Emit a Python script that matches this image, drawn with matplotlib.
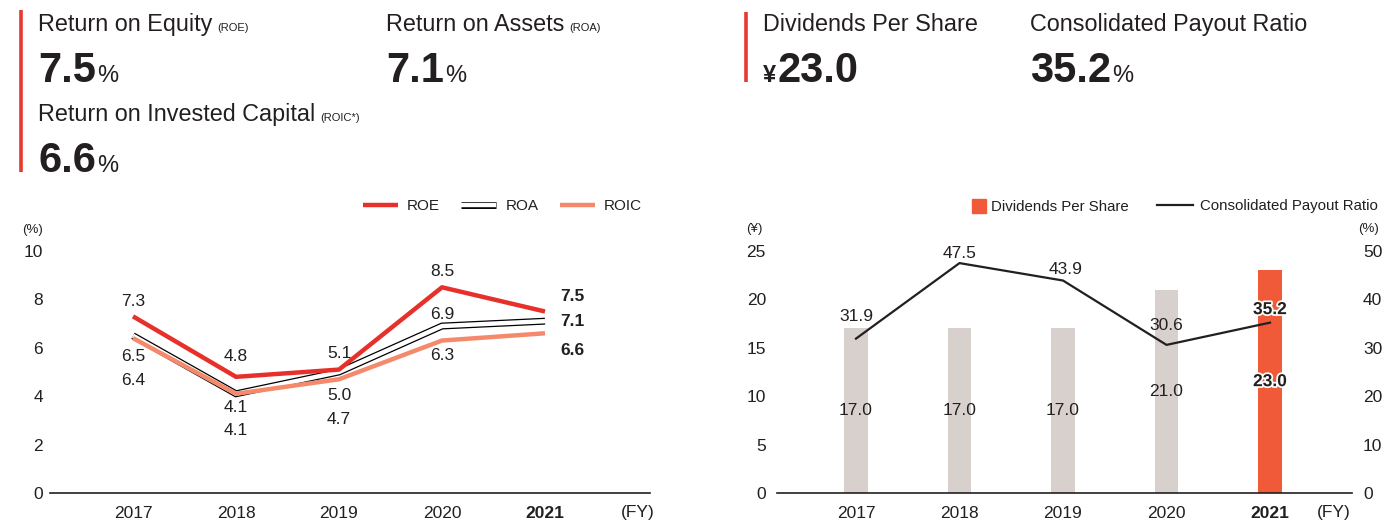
import matplotlib
matplotlib.use('Agg')
import matplotlib.pyplot as plt
import matplotlib.patheffects as pe
from matplotlib.lines import Line2D

# ---------------- data ----------------
years = ['2017', '2018', '2019', '2020', '2021']
roe = [7.3, 4.8, 5.1, 8.5, 7.5]
roa = [6.5, 4.1, 5.0, 6.9, 7.1]
roic = [6.4, 4.1, 4.7, 6.3, 6.6]
dps = [17.0, 17.0, 17.0, 21.0, 23.0]
payout = [31.9, 47.5, 43.9, 30.6, 35.2]
pct_ticks = [0, 2, 4, 6, 8, 10]
yen_ticks = [0, 5, 10, 15, 20, 25]
pay_ticks = [0, 10, 20, 30, 40, 50]

plt.rcParams['font.family'] = ['Liberation Sans', 'DejaVu Sans']

W, H = 1383, 525
fig = plt.figure(figsize=(W / 100, H / 100), dpi=100)
fig.patch.set_facecolor('white')
renderer = fig.canvas.get_renderer()

RED = '#e8302a'
SALMON = '#f4896c'
GRAY = '#d8d0cc'
ORANGE = '#f05a38'
TXT = '#231f20'


def fx(px):
    return px / W


def fy(py):
    return 1 - py / H


# ---------------- headers ----------------
def seq(x, y, parts, gap=3):
    """place text parts one after another on a shared baseline (pixel coords)"""
    cx = x
    for s, kw in parts:
        t = fig.text(fx(cx), fy(y), s, va='baseline', ha='left', color=TXT, **kw)
        bb = t.get_window_extent(renderer)
        cx = bb.x1 + gap


def bar_line(x, y0, y1):
    fig.add_artist(Line2D([fx(x), fx(x)], [fy(y0), fy(y1)], transform=fig.transFigure,
                          color='#e8392f', lw=2.6, solid_capstyle='butt'))


bar_line(21, 10, 172)
bar_line(746, 12, 82)

big = dict(fontsize=30, fontweight='bold')
pc = dict(fontsize=17)
lab = dict(fontsize=16.8)
sm = dict(fontsize=8)

seq(38, 31, [('Return on Equity', lab), ('(ROE)', sm)], gap=5)
seq(38, 82, [('7.5', big), ('%', pc)], gap=1)
seq(386, 31, [('Return on Assets', lab), ('(ROA)', sm)], gap=5)
seq(386, 82, [('7.1', big), ('%', pc)], gap=1)
seq(38, 121, [('Return on Invested Capital', lab), ('(ROIC*)', sm)], gap=5)
seq(38, 172, [('6.6', big), ('%', pc)], gap=1)

seq(763, 31, [('Dividends Per Share', lab)])
seq(763, 82, [('¥', dict(fontsize=17, fontweight='bold')), ('23.0', big)], gap=1)
seq(1030, 31, [('Consolidated Payout Ratio', lab)])
seq(1030, 82, [('35.2', big), ('%', pc)], gap=1)

# ---------------- left chart ----------------
xs = list(range(len(years)))
sp = 103.0
axL = fig.add_axes([fx(50), fy(493), fx(600), 242 / H])
axL.set_xlim(-(133 - 50) / sp, (650 - 133) / sp)
axL.set_ylim(0, 10)

cap = dict(solid_capstyle='butt', solid_joinstyle='miter')
axL.plot(xs, roa, color='black', lw=5.0, zorder=3, **cap)
axL.plot(xs, roa, color='white', lw=3.2, zorder=3.1, **cap)
axL.plot(xs, roic, color=SALMON, lw=3.2, zorder=3.5, solid_capstyle='butt')
axL.plot(xs, roe, color=RED, lw=3.2, zorder=4, solid_capstyle='butt')

for sp_ in ['top', 'right', 'left']:
    axL.spines[sp_].set_visible(False)
axL.spines['bottom'].set_linewidth(1.2)
axL.spines['bottom'].set_color(TXT)
axL.set_yticks(pct_ticks)
axL.set_xticks(xs)
axL.set_xticklabels(years)
axL.tick_params(axis='y', length=0, pad=5, labelsize=12.5, labelcolor=TXT)
axL.tick_params(axis='x', length=0, pad=9, labelsize=12.5, labelcolor=TXT)
axL.get_xticklabels()[-1].set_fontweight('bold')

lbl = dict(fontsize=12.5, color=TXT, ha='center', va='center', textcoords='offset pixels',
           annotation_clip=False)
roe_off = [(0, 15), (0, 20), (0, 16), (0, 16), (17, 15)]
roa_off = [(0, -21), (0, -14), (0, -24), (0, 12), (17, 0)]
roic_off = [(0, -42), (0, -37), (0, -40), (0, -15), (17, -17)]
for vals, offs in [(roe, roe_off), (roa, roa_off), (roic, roic_off)]:
    for i, (v, o) in enumerate(zip(vals, offs)):
        kw = dict(lbl)
        if i == len(vals) - 1:
            kw['fontweight'] = 'bold'
            kw['ha'] = 'left'
            o = (o[0] - 2, o[1])
        axL.annotate(f'{v:.1f}', (i, v), xytext=o, **kw)

axL.text((22 - 50) / 600, (493 - 230) / 242, '(%)', transform=axL.transAxes, fontsize=9.5,
         color=TXT, ha='left', va='center')
axL.annotate('(FY)', (1.0, 0), xycoords='axes fraction', xytext=(-12, -20),
             textcoords='offset pixels', ha='center', va='center', fontsize=12.5, color=TXT)

h_roe = Line2D([], [], color=RED, lw=3.2, solid_capstyle='butt')
h_roa = (Line2D([], [], color='black', lw=5.0, solid_capstyle='butt'),
         Line2D([], [], color='white', lw=3.2, solid_capstyle='butt'))
h_roic = Line2D([], [], color=SALMON, lw=3.2, solid_capstyle='butt')
axL.legend([h_roe, h_roa, h_roic], ['ROE', 'ROA', 'ROIC'], loc='center right',
           bbox_to_anchor=(fx(650), fy(206)), bbox_transform=fig.transFigure,
           ncol=3, frameon=False, fontsize=11, handlelength=2.3, handletextpad=0.6,
           columnspacing=1.4, borderpad=0, labelcolor=TXT)

# ---------------- right chart ----------------
sp2 = 103.5
axR = fig.add_axes([fx(777), fy(493), fx(1352 - 777), 242 / H])
axR.set_xlim(-(856 - 777) / sp2, (1352 - 856) / sp2)
axR.set_ylim(0, 25)
colors = [GRAY] * (len(years) - 1) + [ORANGE]
axR.bar(xs, dps, width=0.23, color=colors, zorder=2)
for sp_ in ['top', 'right', 'left']:
    axR.spines[sp_].set_visible(False)
axR.spines['bottom'].set_linewidth(1.2)
axR.spines['bottom'].set_color(TXT)
axR.spines['bottom'].set_zorder(5)
axR.set_yticks(yen_ticks)
axR.set_xticks(xs)
axR.set_xticklabels(years)
axR.tick_params(axis='y', length=0, pad=8, labelsize=12.5, labelcolor=TXT)
axR.tick_params(axis='x', length=0, pad=9, labelsize=12.5, labelcolor=TXT)
axR.get_xticklabels()[-1].set_fontweight('bold')

stroke = [pe.withStroke(linewidth=2.5, foreground='white')]
for i, v in enumerate(dps):
    kw = dict(fontsize=12.5, color=TXT, ha='center', va='center', zorder=6)
    if i == len(dps) - 1:
        kw['fontweight'] = 'bold'
        kw['path_effects'] = stroke
    axR.text(i, v / 2, f'{v:.1f}', **kw)

axT = axR.twinx()
axT.set_ylim(0, 50)
axT.set_yticks(pay_ticks)
for sp_ in ['top', 'right', 'left', 'bottom']:
    axT.spines[sp_].set_visible(False)
axT.tick_params(axis='y', length=0, pad=8, labelsize=12.5, labelcolor=TXT)
axT.plot(xs, payout, color=TXT, lw=1.6, zorder=4)
pay_off = [(0, 22), (0, 10), (3, 11), (0, 19), (0, 13)]
for i, (v, o) in enumerate(zip(payout, pay_off)):
    kw = dict(lbl)
    if i == len(payout) - 1:
        kw['fontweight'] = 'bold'
        kw['path_effects'] = stroke
    axT.annotate(f'{v:.1f}', (i, v), xytext=o, **kw)

axR.text((746 - 777) / 575, (493 - 229) / 242, '(¥)', transform=axR.transAxes,
         fontsize=9.5, color=TXT, ha='left', va='center')
axT.text((1358 - 777) / 575, (493 - 229) / 242, '(%)', transform=axT.transAxes,
         fontsize=9.5, color=TXT, ha='left', va='center')
axR.annotate('(FY)', (1.0, 0), xycoords='axes fraction', xytext=(-18, -20),
             textcoords='offset pixels', ha='center', va='center', fontsize=12.5, color=TXT)

h_dps = Line2D([], [], marker='s', markersize=10, color=ORANGE, ls='none')
h_pay = Line2D([], [], color=TXT, lw=1.6)
axR.legend([h_dps], ['Dividends Per Share'], loc='center left',
           bbox_to_anchor=(fx(972), fy(207)), bbox_transform=fig.transFigure,
           frameon=False, fontsize=10.8, handlelength=1.0, handletextpad=0.3,
           borderpad=0, borderaxespad=0, labelcolor=TXT)
axT.legend([h_pay], ['Consolidated Payout Ratio'], loc='center left',
           bbox_to_anchor=(fx(1157), fy(206)), bbox_transform=fig.transFigure,
           frameon=False, fontsize=10.8, handlelength=2.4, handletextpad=0.5,
           borderpad=0, borderaxespad=0, labelcolor=TXT)

fig.savefig('out.png', dpi=100, facecolor='white')
